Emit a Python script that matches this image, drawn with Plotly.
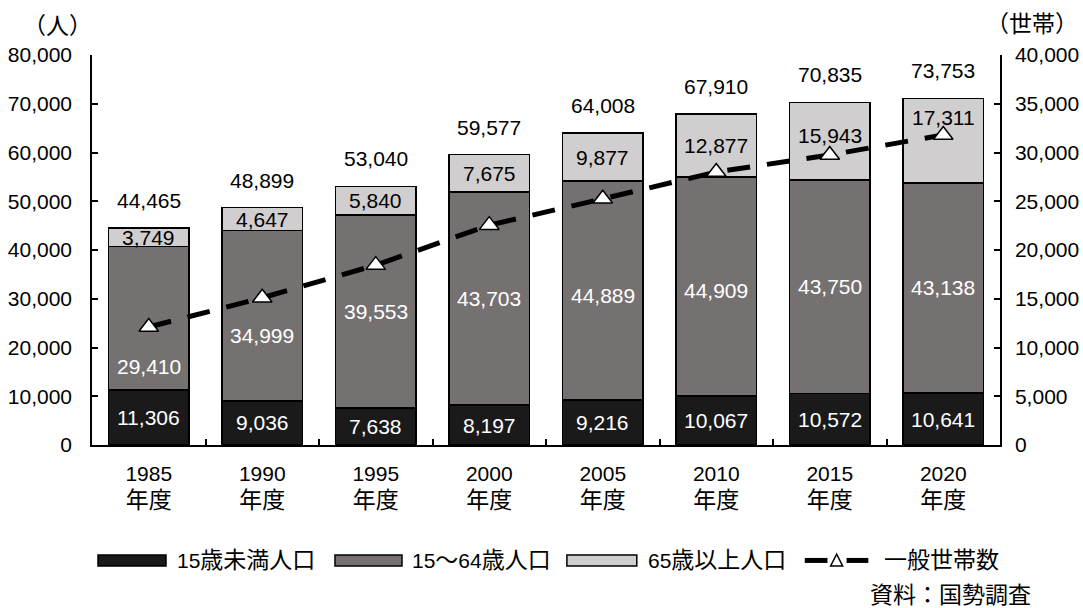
import re
import plotly.graph_objects as go

years = ["1985", "1990", "1995", "2000", "2005", "2010", "2015", "2020"]
under15 = [11306, 9036, 7638, 8197, 9216, 10067, 10572, 10641]
age15_64 = [29410, 34999, 39553, 43703, 44889, 44909, 43750, 43138]
over65 = [3749, 4647, 5840, 7675, 9877, 12877, 15943, 17311]
totals = [44465, 48899, 53040, 59577, 64008, 67910, 70835, 73753]
households = [12100, 15100, 18450, 22550, 25250, 28000, 29750, 31800]

series_names = ["15歳未満人口", "15～64歳人口", "65歳以上人口", "一般世帯数"]
year_suffix = "年度"
left_unit = "（人）"
right_unit = "（世帯）"
source_text = "資料：国勢調査"

FONT = "Liberation Sans, Arial, Noto Sans CJK JP, sans-serif"
FS = 21
FS_CJK = 23
C_DARK = "#1a1a1a"
C_MID = "#767171"
C_LIGHT = "#d0cece"


def cjk(text):
    """Render CJK runs slightly larger, like the original's full-width glyphs."""
    return re.sub(r"([^\x00-\x7f]+)",
                  lambda m: f"<span style='font-size:{FS_CJK}px'>{m.group(1)}</span>", text)


tick_text = [f"{y}<br>{cjk(year_suffix)}" for y in years]

# label offsets (style only, pixels)
mid_shift = [-48, -20, 0, 0, -5, -4, 0, 0]
top_shift = [0, 0, 0, 0, 0, 0, 6, 23]

fig = go.Figure()
for vals, col, name in [(under15, C_DARK, series_names[0]),
                        (age15_64, C_MID, series_names[1]),
                        (over65, C_LIGHT, series_names[2])]:
    fig.add_trace(go.Bar(x=years, y=vals, name=name,
                         marker=dict(color=col, line=dict(color="black", width=1.5)),
                         showlegend=False))

fig.add_trace(go.Scatter(x=years, y=households, yaxis="y2", name=series_names[3],
                         mode="lines+markers",
                         line=dict(color="black", width=5, dash="23px,17px"),
                         marker=dict(symbol="triangle-up", size=17, color="white",
                                     line=dict(color="black", width=1.5)),
                         showlegend=False))

ann = []
for i, y in enumerate(years):
    b0 = under15[i]
    b1 = b0 + age15_64[i]
    b2 = b1 + over65[i]
    # category axes take the category serial number for annotations
    ann.append(dict(x=i, y=b0 / 2, text=f"{under15[i]:,}", showarrow=False,
                    xanchor="center", yanchor="middle",
                    font=dict(color="white", size=FS, family=FONT)))
    ann.append(dict(x=i, y=(b0 + b1) / 2, yshift=mid_shift[i], text=f"{age15_64[i]:,}",
                    showarrow=False, xanchor="center", yanchor="middle",
                    font=dict(color="white", size=FS, family=FONT)))
    ann.append(dict(x=i, y=(b1 + b2) / 2, yshift=top_shift[i], text=f"{over65[i]:,}",
                    showarrow=False, xanchor="center", yanchor="middle",
                    font=dict(color="black", size=FS, family=FONT)))
    ann.append(dict(x=i, y=b2, xanchor="center", yanchor="bottom", yshift=14,
                    text=f"{totals[i]:,}", showarrow=False,
                    font=dict(color="black", size=FS, family=FONT)))

# axis unit titles
ann.append(dict(xref="paper", yref="paper", x=-0.0385, y=1.074, xanchor="center",
                yanchor="middle", text=left_unit, showarrow=False,
                font=dict(size=FS_CJK, family=FONT, color="black")))
ann.append(dict(xref="paper", yref="paper", x=1.035, y=1.079, xanchor="center",
                yanchor="middle", text=right_unit, showarrow=False,
                font=dict(size=FS_CJK, family=FONT, color="black")))
# source
ann.append(dict(xref="paper", yref="paper", x=1.036, y=-0.385, xanchor="right",
                yanchor="middle", text=source_text, showarrow=False,
                font=dict(size=FS_CJK, family=FONT, color="black")))

# custom legend
shapes = []
ly0, ly1, lyc = -0.310, -0.282, -0.296
legend_boxes = [(0.0066, 0.0815, C_DARK, 0.0914),
                (0.2676, 0.3414, C_MID, 0.3502),
                (0.523, 0.600, C_LIGHT, 0.610)]
for (x0, x1, col, tx), name in zip(legend_boxes, series_names[:3]):
    shapes.append(dict(type="rect", xref="paper", yref="paper", x0=x0, x1=x1,
                       y0=ly0, y1=ly1, fillcolor=col, line=dict(color="black", width=1.5)))
    ann.append(dict(xref="paper", yref="paper", x=tx, y=lyc, xanchor="left",
                    yanchor="middle", text=cjk(name), showarrow=False,
                    font=dict(size=FS, family=FONT, color="black")))
# line legend
shapes.append(dict(type="line", xref="paper", yref="paper", x0=0.785, x1=0.810,
                   y0=lyc, y1=lyc, line=dict(color="black", width=5)))
shapes.append(dict(type="line", xref="paper", yref="paper", x0=0.831, x1=0.855,
                   y0=lyc, y1=lyc, line=dict(color="black", width=5)))
shapes.append(dict(type="path", xref="paper", yref="paper",
                   path="M 0.8135 -0.310 L 0.8267 -0.310 L 0.8201 -0.280 Z",
                   fillcolor="white", line=dict(color="black", width=1.5)))
ann.append(dict(xref="paper", yref="paper", x=0.870, y=lyc, xanchor="left",
                yanchor="middle", text=series_names[3], showarrow=False,
                font=dict(size=FS_CJK, family=FONT, color="black")))

fig.update_layout(
    width=1083, height=608,
    margin=dict(l=92, r=83, t=55, b=163),
    paper_bgcolor="white", plot_bgcolor="white",
    barmode="stack", bargap=0.29,
    font=dict(family=FONT, size=FS, color="black"),
    showlegend=False,
    annotations=ann, shapes=shapes,
    xaxis=dict(type="category", tickmode="array", tickvals=years, ticktext=tick_text,
               range=[-0.5, 7.5], tickson="boundaries", ticks="inside", ticklen=6,
               tickcolor="black", tickwidth=1.5, showline=True, linecolor="black",
               linewidth=1.5, showgrid=False, ticklabelstandoff=9, automargin=False,
               tickfont=dict(size=FS, family=FONT, color="black")),
    yaxis=dict(range=[0, 80000], dtick=10000, tickformat=",d", ticks="inside",
               ticklen=6, tickcolor="black", tickwidth=1.5, showline=True,
               linecolor="black", linewidth=1.5, showgrid=False, zeroline=False,
               ticklabelstandoff=14, automargin=False,
               tickfont=dict(size=FS, family=FONT, color="black")),
    yaxis2=dict(range=[0, 40000], dtick=5000, tickformat=",d", overlaying="y",
                side="right", ticks="inside", ticklen=6, tickcolor="black",
                tickwidth=1.5, showline=True, linecolor="black", linewidth=1.5,
                showgrid=False, zeroline=False, ticklabelstandoff=9, automargin=False,
                tickfont=dict(size=FS, family=FONT, color="black")),
)

fig.write_html("out.html", config={"displayModeBar": False},
               post_script="document.body.style.margin='0';document.body.style.overflow='hidden';")
